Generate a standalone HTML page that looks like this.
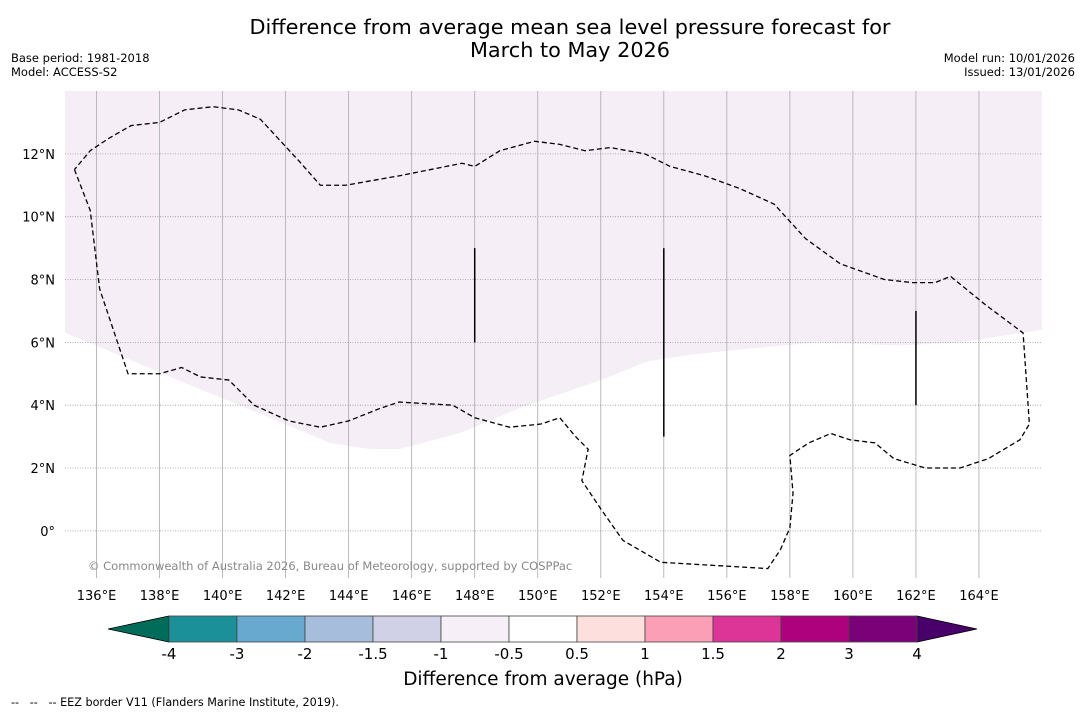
<!DOCTYPE html>
<html><head><meta charset="utf-8"><style>
body{margin:0;width:1085px;height:713px;background:#fff;font-family:"Liberation Sans","DejaVu Sans",sans-serif;overflow:hidden}
svg text{font-family:"DejaVu Sans","Liberation Sans",sans-serif;white-space:pre}
</style></head><body>
<svg id="c" width="1085" height="713">
<text x="570" y="34" font-size="20.8" text-anchor="middle">Difference from average mean sea level pressure forecast for</text>
<text x="570" y="57" font-size="20.8" text-anchor="middle">March to May 2026</text>
<text x="11" y="62" font-size="11.5">Base period: 1981-2018</text>
<text x="11" y="76" font-size="11.5">Model: ACCESS-S2</text>
<text x="1075" y="62" font-size="11.5" text-anchor="end">Model run: 10/01/2026</text>
<text x="1075" y="76" font-size="11.5" text-anchor="end">Issued: 13/01/2026</text>
<g id="map"></g>
<g id="cbar"></g>
<text x="543" y="685" font-size="18.5" text-anchor="middle">Difference from average (hPa)</text>
<text x="11" y="706" font-size="11.2" xml:space="preserve">--   --   -- EEZ border V11 (Flanders Marine Institute, 2019).</text>
</svg>
<script>
const lonTicks=[136,138,140,142,144,146,148,150,152,154,156,158,160,162,164];
const latTicks=[0,2,4,6,8,10,12];
const shadeLon=[135.0,136.7,139.3,141.5,143.4,144.7,145.6,147.5,149.4,152.0,153.5,154.8,156.7,158.9,161.5,163.4,166.0];
const shadeLat=[6.3,5.6,4.5,3.6,2.8,2.6,2.6,3.1,3.9,4.8,5.4,5.6,5.8,6.0,5.9,6.0,6.4];
const eezLon=[135.3,135.8,136.1,137.0,138.0,138.7,139.3,140.2,141.0,142.1,143.1,144.0,145.0,145.6,147.3,148.0,149.1,150.1,150.7,151.2,151.6,151.4,152.0,152.7,153.9,157.3,157.7,158.0,158.1,158.0,158.6,159.3,159.9,160.7,161.3,162.3,163.4,164.3,165.3,165.6,165.4,164.2,163.1,162.6,161.9,161.0,159.6,158.5,157.5,156.4,155.3,154.2,153.4,152.3,151.5,150.7,149.9,148.8,148.0,147.6,145.6,143.9,143.1,142.4,141.2,140.5,139.7,138.8,138.0,137.1,136.4,135.8,135.3];
const eezLat=[11.5,10.2,7.7,5.0,5.0,5.2,4.9,4.8,4.0,3.5,3.3,3.5,3.9,4.1,4.0,3.6,3.3,3.4,3.6,3.0,2.6,1.6,0.7,-0.3,-1.0,-1.2,-0.6,0.1,1.2,2.4,2.8,3.1,2.9,2.8,2.3,2.0,2.0,2.3,2.9,3.4,6.3,7.2,8.1,7.9,7.9,8.0,8.5,9.3,10.4,10.9,11.3,11.6,12.0,12.2,12.1,12.3,12.4,12.1,11.6,11.7,11.3,11.0,11.0,11.8,13.1,13.4,13.5,13.4,13.0,12.9,12.5,12.1,11.5];
const segLon=[148,154,162];
const segLat0=[6,3,4];
const segLat1=[9,9,7];
const cbLabels=["-4","-3","-2","-1.5","-1","-0.5","0.5","1","1.5","2","3","4"];
const cbColors=["#1c9099","#67a9cf","#a6bddb","#d0d1e6","#f6eff7","#ffffff","#fde0dd","#fa9fb5","#dd3497","#ae017e","#7a0177"];

const NS="http://www.w3.org/2000/svg";
const X0=65,X1=1042,Y0=91,Y1=578,LON0=135,LON1=166,LAT0=-1.5,LAT1=14;
const x=l=>X0+(l-LON0)/(LON1-LON0)*(X1-X0);
const y=l=>Y0+(LAT1-l)/(LAT1-LAT0)*(Y1-Y0);
function mk(t,a,p){const e=document.createElementNS(NS,t);for(const k in a)e.setAttribute(k,a[k]);p.appendChild(e);return e;}
const map=document.getElementById('map');
const bg=mk('rect',{x:X0,y:Y0,width:X1-X0,height:Y1-Y0,fill:'#fff'},map);


let d='M'+x(LON0)+','+Y0;
shadeLon.forEach((l,i)=>{d+=' L'+x(l)+','+y(shadeLat[i]);});
d+=' L'+x(LON1)+','+Y0+' Z';
const sh=mk('path',{d:d,fill:'#f5eef6'},map);


lonTicks.forEach(l=>{
 const g=mk('line',{x1:x(l),x2:x(l),y1:Y0,y2:Y1,stroke:'#aaa','stroke-width':0.8},map);
 
 
 const t=mk('text',{x:x(l),y:600,'font-size':13,'text-anchor':'middle'},map);t.textContent=l+'°E';
 
 
});
latTicks.forEach(l=>{
 const g=mk('line',{x1:X0,x2:X1,y1:y(l),y2:y(l),stroke:'#999','stroke-width':0.8,'stroke-dasharray':'1,1.5'},map);
 
 
 const t=mk('text',{x:55,y:y(l)+5,'font-size':13,'text-anchor':'end'},map);t.textContent=l===0?'0°':l+'°N';
 
 
});
let e='';eezLon.forEach((l,i)=>{e+=(i?' L':'M')+x(l)+','+y(eezLat[i]);});
const ez=mk('path',{d:e,fill:'none',stroke:'#000','stroke-width':1.3,'stroke-dasharray':'5,3'},map);


segLon.forEach((l,i)=>{
 const s=mk('line',{x1:x(l),x2:x(l),y1:y(segLat0[i]),y2:y(segLat1[i]),stroke:'#000','stroke-width':1.5},map);
 
 
});
const cp=mk('text',{x:88,y:570,'font-size':11.5,fill:'#888'},map);cp.textContent='© Commonwealth of Australia 2026, Bureau of Meteorology, supported by COSPPac';



const cb=document.getElementById('cbar');
const CX0=169,CW=68,CY=616,CH=26;
const lt=mk('polygon',{points:`108,${CY+CH/2} ${CX0},${CY} ${CX0},${CY+CH}`,fill:'#016c59',stroke:'#000','stroke-width':0.8},cb);


const xe=CX0+CW*cbColors.length;
const rt=mk('polygon',{points:`${xe},${CY} ${xe},${CY+CH} 977,${CY+CH/2}`,fill:'#49006a',stroke:'#000','stroke-width':0.8},cb);


cbColors.forEach((c,i)=>{
 const r=mk('rect',{x:CX0+i*CW,y:CY,width:CW,height:CH,fill:c,stroke:'#444','stroke-width':0.8},cb);
 
 
});
cbLabels.forEach((s,i)=>{
 const t=mk('text',{x:CX0+i*CW,y:659,'font-size':15,'text-anchor':'middle'},cb);t.textContent=s;
 
 
});
</script>
</body></html>
